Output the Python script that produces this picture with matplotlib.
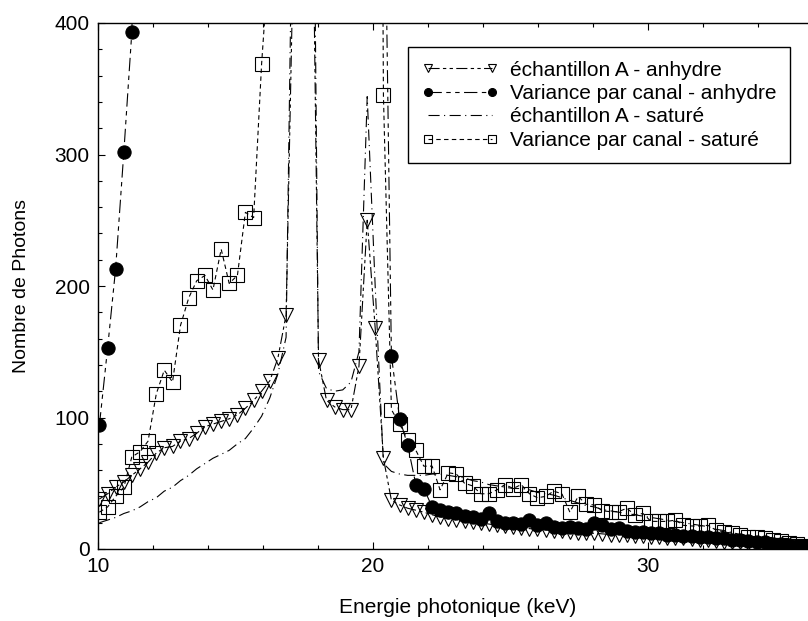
import matplotlib
matplotlib.use("Agg")
import matplotlib.pyplot as plt
from matplotlib.ticker import MultipleLocator

plt.rcParams['font.family'] = ['Liberation Sans', 'DejaVu Sans']

# Channel energies (keV)
energy = [10.05, 10.35, 10.64, 10.94, 11.23, 11.53, 11.82, 12.12, 12.41, 12.71,
          13.00, 13.30, 13.59, 13.89, 14.18, 14.48, 14.77, 15.07, 15.36, 15.66,
          15.95, 16.25, 16.54, 16.84, 17.13, 17.43, 17.72, 18.02, 18.31, 18.61,
          18.90, 19.20, 19.49, 19.79, 20.08, 20.38, 20.67, 20.97, 21.26, 21.56,
          21.85, 22.15, 22.44, 22.74, 23.03, 23.33, 23.62, 23.92, 24.21, 24.51,
          24.80, 25.10, 25.39, 25.69, 25.98, 26.28, 26.57, 26.87, 27.16, 27.46,
          27.75, 28.05, 28.34, 28.64, 28.93, 29.23, 29.52, 29.82, 30.11, 30.41,
          30.70, 31.00, 31.29, 31.59, 31.88, 32.18, 32.47, 32.77, 33.06, 33.36,
          33.65, 33.95, 34.24, 34.54, 34.83, 35.13, 35.42, 35.72, 36.01]

# échantillon A - anhydre
anhydre = [38, 42, 47, 51, 56, 61, 66, 73, 77, 78,
           82, 84, 88, 93, 95, 97, 99, 102, 107, 113,
           120, 128, 145, 178, 480, 2500, 650, 144, 113, 108,
           106, 106, 139, 250, 168, 69, 37, 33.5, 31, 29.5,
           28, 26, 24.5, 23, 22, 21, 20.5, 19.5, 19, 18,
           17.5, 16.5, 16, 15.5, 15, 14.5, 14, 13.5, 13, 12.5,
           12, 12, 11.5, 11, 11, 10.5, 10, 10, 9.5, 9,
           8.5, 8.5, 8, 7.5, 7, 6.5, 6, 5.5, 5, 5,
           4.5, 4, 3.5, 3, 3, 2.5, 2, 1.5, 1]

# Variance par canal - anhydre
var_anhydre = [94, 153, 213, 302, 393, 650, 900, 1100, 1300, 1500,
               1700, 1900, 2100, 2300, 2500, 2700, 2900, 3100, 3300, 3600,
               4000, 4500, 5200, 6500, 9000, 15000, 12000, 8000, 6000, 5000,
               4500, 4200, 4000, 3500, 1800, 583, 147, 99, 79, 49,
               46, 32, 30, 28, 27, 25, 24, 23, 27, 21,
               20, 20, 19, 22, 18, 20, 17, 16, 17, 16,
               15, 20, 18, 15, 16, 14, 13, 13, 12, 12,
               11, 11, 10, 10, 9, 9, 8, 8, 7, 7,
               6, 5.5, 5, 4, 3.5, 3, 2.5, 2, 1.5]

# échantillon A - saturé
sature = [20, 22, 24, 27, 29, 32, 36, 39, 44, 47,
          52, 56, 61, 65, 69, 72, 75, 80, 84, 92,
          101, 115, 133, 161, 590, 3000, 815, 135, 122, 120,
          121, 127, 150, 344, 200, 65, 59, 57, 56, 56,
          56, 57, 57, 56, 55, 54, 52, 51, 49, 48,
          47, 46, 46, 45, 43, 42, 41, 39, 37, 35,
          33, 32, 30, 29, 28, 27, 26, 25, 24, 23,
          22, 21, 20, 19, 18, 17, 15, 14, 12.5, 11,
          10, 9, 8, 7, 6, 5, 4, 3, 2]

# Variance par canal - saturé
var_sature = [28, 32, 40, 47, 70, 74, 82, 118, 136, 127,
              170, 191, 204, 208, 197, 228, 202, 208, 256, 252,
              369, 460, 700, 1000, 3000, 9000, 6000, 2500, 2000, 1800,
              1700, 1800, 2200, 3500, 1500, 345, 106, 95, 83, 75,
              63, 63, 45, 58, 57, 50, 48, 42, 42, 45,
              49, 46, 49, 42, 39, 40, 44, 42, 28, 40,
              34, 33.5, 29, 28.4, 28.4, 31, 26, 27, 21, 21,
              21, 22, 18, 17.5, 17.5, 18, 14.4, 13, 12, 10.6,
              9.4, 8.9, 8, 6.8, 6, 4.8, 3.5, 2.3, 1.5]

labels = ["échantillon A - anhydre", "Variance par canal - anhydre",
          "échantillon A - saturé", "Variance par canal - saturé"]

fig = plt.figure(figsize=(8.08, 6.21), dpi=100)
ax = fig.add_axes([98/808, 1 - 549/621, 1 - 98/808, (549 - 23)/621])

lw = 0.8
ax.plot(energy, anhydre, color='black', lw=lw, dashes=(10, 3, 3, 3, 3, 3),
        marker='v', ms=9.5, mfc='none', mec='black', mew=0.8, label=labels[0])
ax.plot(energy, var_anhydre, color='black', lw=lw, dashes=(12, 4, 4, 4, 4, 4),
        marker='o', ms=9.5, mfc='black', mec='black', mew=0.8, label=labels[1])
ax.plot(energy, sature, color='black', lw=lw, dashes=(10, 4, 1, 4),
        label=labels[2])
ax.plot(energy, var_sature, color='black', lw=lw, dashes=(4, 3),
        marker='s', ms=9.5, mfc='none', mec='black', mew=0.8, label=labels[3])

ax.set_xlim(10, 35.82)
ax.set_ylim(0, 400)
ax.xaxis.set_major_locator(MultipleLocator(10))
ax.xaxis.set_minor_locator(MultipleLocator(2))
ax.yaxis.set_major_locator(MultipleLocator(100))
ax.yaxis.set_minor_locator(MultipleLocator(20))
ax.tick_params(which='both', direction='in', top=True, right=False,
               labelsize=15, width=0.8)
ax.tick_params(which='major', length=5, pad=6)
ax.tick_params(which='minor', length=3)
ax.spines['right'].set_visible(False)
for s in ['left', 'bottom', 'top']:
    ax.spines[s].set_linewidth(1.0)

ax.set_xlabel("Energie photonique (keV)", fontsize=15, labelpad=18)
ax.xaxis.set_label_coords(0.506, -0.093)
ax.set_ylabel("Nombre de Photons", fontsize=14, labelpad=18)

leg = ax.legend(loc='upper right', bbox_to_anchor=(0.9746, 0.954),
                borderaxespad=0, fontsize=15, frameon=True, fancybox=False,
                edgecolor='black', framealpha=1, numpoints=2,
                handlelength=3.7, handletextpad=0.55, labelspacing=0.21,
                markerscale=0.6, borderpad=0.65)
leg.get_frame().set_linewidth(1.0)

fig.savefig("out.png", dpi=100)
